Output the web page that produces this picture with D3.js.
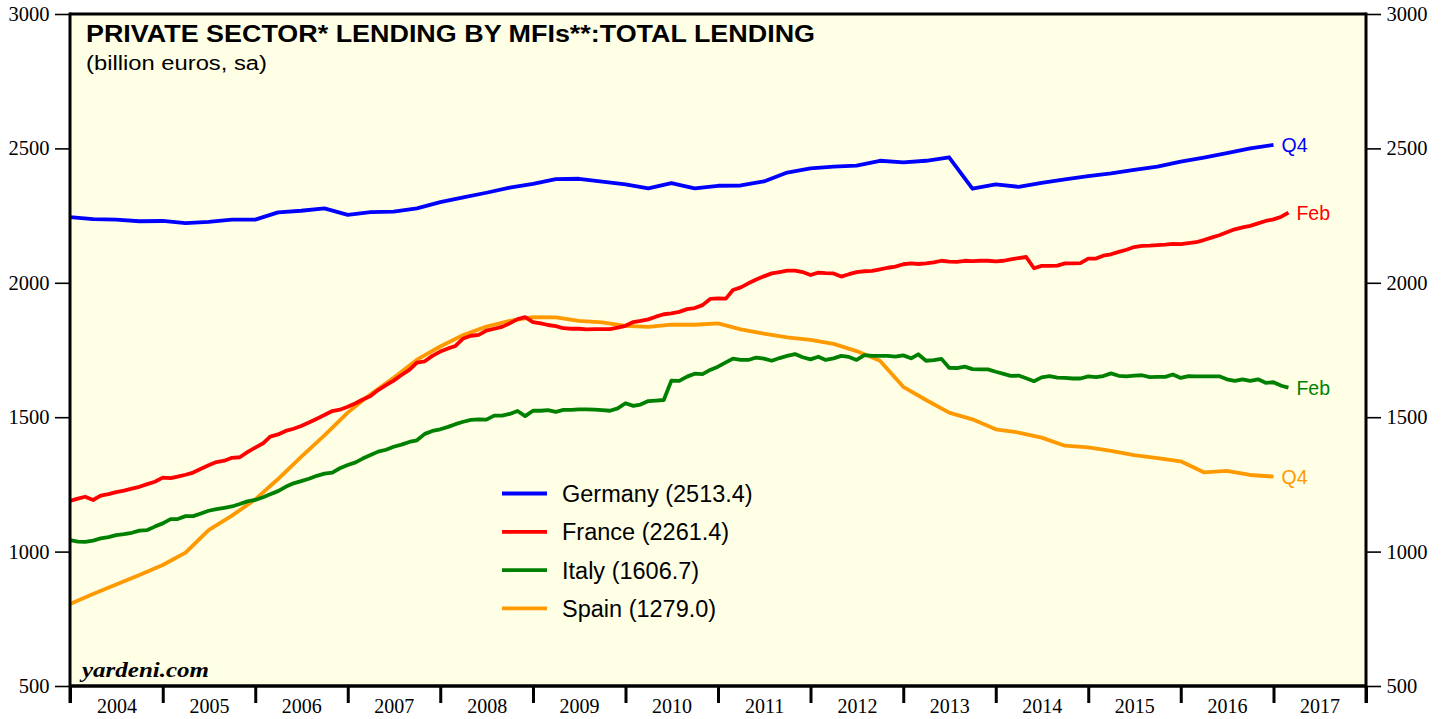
<!DOCTYPE html>
<html>
<head>
<meta charset="utf-8">
<script src="https://cdn.jsdelivr.net/npm/d3@7"></script>
<style>
  body { margin: 0; background: #fff; }
  svg text { fill: #000; }
</style>
</head>
<body>
<svg id="chart"></svg>
<script>
// quarterly series, Q4 2003 .. Q4 2016 (plotted at quarter end)
var germany = [2244,2237,2235,2229,2230,2222,2227,2235,2235,2262,2268,2277,2253,2263,2265,2277,
  2300,2318,2335,2354,2368,2386,2387,2376,2366,2351,2371,2351,2361,2362,2377,2410,2426,2432,
  2436,2454,2448,2454,2467,2350,2366,2357,2372,2385,2397,2407,2420,2432,2451,2466,2482,2500,2513];
var spain = [805,842,878,913,950,996,1080,1134,1194,1270,1352,1432,1517,1585,1647,1714,1763,
  1806,1837,1858,1872,1871,1858,1853,1840,1836,1844,1844,1849,1827,1811,1797,1788,1773,1746,
  1710,1613,1564,1517,1492,1455,1443,1424,1394,1388,1375,1359,1348,1336,1295,1300,1285,1279];

// monthly series, Dec 2003 .. Feb 2017 (plotted at month end)
var france = [1189,1197,1204,1192,1208,1214,1221,1227,1234,1241,1251,1260,1275,1273,1279,1286,
  1294,1308,1321,1333,1338,1349,1351,1370,1387,1403,1428,1436,1449,1457,1467,1480,1494,1508,
  1523,1528,1539,1552,1566,1579,1601,1619,1636,1657,1676,1703,1708,1728,1744,1756,1765,1793,
  1803,1806,1822,1829,1836,1849,1865,1872,1854,1849,1843,1839,1831,1829,1829,1827,1828,1828,
  1828,1833,1840,1854,1858,1864,1874,1883,1886,1892,1902,1906,1917,1940,1942,1941,1973,1983,
  1998,2012,2024,2035,2040,2045,2045,2040,2029,2038,2036,2035,2023,2032,2040,2043,2044,2050,
  2056,2060,2069,2072,2070,2072,2076,2082,2079,2078,2082,2081,2082,2082,2080,2082,2087,2092,
  2096,2054,2063,2063,2064,2072,2072,2073,2090,2090,2101,2106,2115,2123,2133,2137,2138,2140,
  2142,2145,2144,2148,2151,2159,2168,2177,2188,2199,2206,2212,2221,2230,2236,2246,2261];
var italy = [1043,1037,1036,1041,1049,1054,1061,1065,1070,1078,1080,1093,1105,1121,1121,1132,
  1132,1142,1152,1158,1163,1168,1177,1187,1192,1202,1213,1225,1241,1254,1262,1271,1282,1290,
  1294,1310,1322,1332,1346,1359,1372,1379,1390,1398,1408,1414,1438,1449,1455,1464,1474,1483,
  1490,1492,1491,1506,1506,1512,1523,1504,1524,1524,1526,1520,1527,1527,1529,1529,1528,1526,
  1524,1533,1552,1542,1547,1560,1562,1564,1636,1635,1651,1662,1660,1676,1688,1704,1718,1713,
  1713,1722,1718,1710,1720,1728,1735,1723,1715,1725,1713,1719,1728,1724,1713,1731,1728,1728,
  1728,1725,1730,1719,1734,1710,1712,1717,1684,1683,1688,1679,1678,1678,1669,1661,1654,1655,
  1645,1634,1648,1653,1647,1646,1644,1644,1652,1649,1653,1663,1654,1652,1655,1656,1649,1650,
  1650,1659,1646,1653,1652,1652,1652,1652,1641,1635,1641,1635,1641,1628,1630,1617,1610];

var years = [2004,2005,2006,2007,2008,2009,2010,2011,2012,2013,2014,2015,2016,2017];
var legendNames = ["Germany (2513.4)", "France (2261.4)", "Italy (1606.7)", "Spain (1279.0)"];
var endLabels = ["Q4", "Feb", "Feb", "Q4"];
var colors = ["#0000ff", "#ff0000", "#008000", "#ff9900"];

var width = 1448, height = 719;
var pLeft = 70, pRight = 1366, pTop = 14, pBottom = 686;
var sans = "Liberation Sans, Arial, sans-serif";
var serif = "Liberation Serif, Times New Roman, serif";

var svg = d3.select("#chart").attr("width", width).attr("height", height);

var x = d3.scaleTime()
  .domain([new Date(2004, 0, 1), new Date(2018, 0, 1)])
  .range([pLeft, pRight]);
var y = d3.scaleLinear().domain([500, 3000]).range([pBottom, pTop]);

svg.append("rect")
  .attr("x", pLeft).attr("y", pTop)
  .attr("width", pRight - pLeft).attr("height", pBottom - pTop)
  .attr("fill", "#ffffe6");

// series dates
var qDate = function(d, i) { return new Date(2004, i * 3, 1); };
var mDate = function(d, i) { return new Date(2004, i, 1); };

var series = [
  { values: germany, date: qDate },
  { values: france, date: mDate },
  { values: italy, date: mDate },
  { values: spain, date: qDate }
];

var line = function(s) {
  return d3.line()
    .x(function(d, i) { return x(s.date(d, i)); })
    .y(function(d) { return y(d); })(s.values);
};

[3, 2, 1, 0].forEach(function(k) {
  svg.append("path")
    .attr("d", line(series[k]))
    .attr("fill", "none")
    .attr("stroke", colors[k])
    .attr("stroke-width", 3.8)
    .attr("stroke-linejoin", "round");
});

// end labels
series.forEach(function(s, k) {
  var n = s.values.length - 1;
  svg.append("text")
    .attr("x", x(s.date(null, n)) + 8)
    .attr("y", y(s.values[n]))
    .attr("dy", "0.36em")
    .attr("font-family", sans)
    .attr("font-size", 19.5)
    .style("fill", colors[k])
    .text(endLabels[k]);
});

// y axes, both sides
var major = d3.range(500, 3001, 500);
var minor = d3.range(500, 3001, 100);

function yAxes(axisFn, xpos) {
  var a = svg.append("g").attr("transform", "translate(" + xpos + ",0)");
  a.call(axisFn(y).tickValues(minor).tickSize(7.5).tickFormat(""));
  a.call(axisFn(y).tickValues(major).tickSize(15).tickPadding(5.5).tickFormat(d3.format("d")));
  a.selectAll(".domain").remove();
  a.selectAll("line").attr("stroke", "#000").attr("stroke-width", 1.6);
  a.selectAll("text").attr("font-family", serif).attr("font-size", 20.5);
}
yAxes(d3.axisLeft, pLeft);
yAxes(d3.axisRight, pRight);

// year boundary ticks
var xt = svg.append("g").attr("transform", "translate(0," + pBottom + ")");
xt.call(d3.axisBottom(x)
  .tickValues(years.map(function(yr) { return new Date(yr, 0, 1); }).concat([new Date(2018, 0, 1)]))
  .tickSize(17).tickFormat(""));
xt.selectAll(".domain").remove();
xt.selectAll("line").attr("stroke", "#000").attr("stroke-width", 3);

// year labels centred in each year
var xl = svg.append("g").attr("transform", "translate(0," + pBottom + ")");
xl.call(d3.axisBottom(x)
  .tickValues(years.map(function(yr) { return new Date(yr, 6, 2); }))
  .tickSize(0).tickPadding(13)
  .tickFormat(d3.timeFormat("%Y")));
xl.selectAll(".domain").remove();
xl.selectAll("text").attr("font-family", serif).attr("font-size", 20);

// frame
svg.append("line").attr("x1", pLeft).attr("x2", pRight).attr("y1", pTop).attr("y2", pTop)
  .attr("stroke", "#000").attr("stroke-width", 3);
svg.append("line").attr("x1", pLeft - 1).attr("x2", pRight + 1).attr("y1", pBottom).attr("y2", pBottom)
  .attr("stroke", "#000").attr("stroke-width", 3.5);
svg.append("line").attr("x1", pLeft).attr("x2", pLeft).attr("y1", pTop - 1.5).attr("y2", pBottom + 17)
  .attr("stroke", "#000").attr("stroke-width", 3);
svg.append("line").attr("x1", pRight).attr("x2", pRight).attr("y1", pTop - 1.5).attr("y2", pBottom + 17)
  .attr("stroke", "#000").attr("stroke-width", 3);

// titles
svg.append("text").attr("x", 86).attr("y", 42)
  .attr("font-family", sans)
  .attr("font-weight", "bold").attr("font-size", 23.5)
  .attr("textLength", 729).attr("lengthAdjust", "spacingAndGlyphs")
  .text("PRIVATE SECTOR* LENDING BY MFIs**:TOTAL LENDING");
svg.append("text").attr("x", 86).attr("y", 70)
  .attr("font-family", sans)
  .attr("font-size", 20)
  .attr("textLength", 181).attr("lengthAdjust", "spacingAndGlyphs")
  .text("(billion euros, sa)");

svg.append("text").attr("x", 82).attr("y", 677)
  .attr("font-family", serif)
  .attr("font-weight", "bold").attr("font-style", "italic").attr("font-size", 20)
  .attr("textLength", 127).attr("lengthAdjust", "spacingAndGlyphs")
  .text("yardeni.com");

// legend
var legend = svg.append("g");
legendNames.forEach(function(name, k) {
  var ly = 493.5 + k * 38.3;
  legend.append("line")
    .attr("x1", 502).attr("x2", 547).attr("y1", ly).attr("y2", ly)
    .attr("stroke", colors[k]).attr("stroke-width", 3.8);
  legend.append("text")
    .attr("x", 562).attr("y", ly).attr("dy", "0.36em")
    .attr("font-family", sans)
    .attr("font-size", 23.5)
    .text(name);
});
</script>
</body>
</html>
